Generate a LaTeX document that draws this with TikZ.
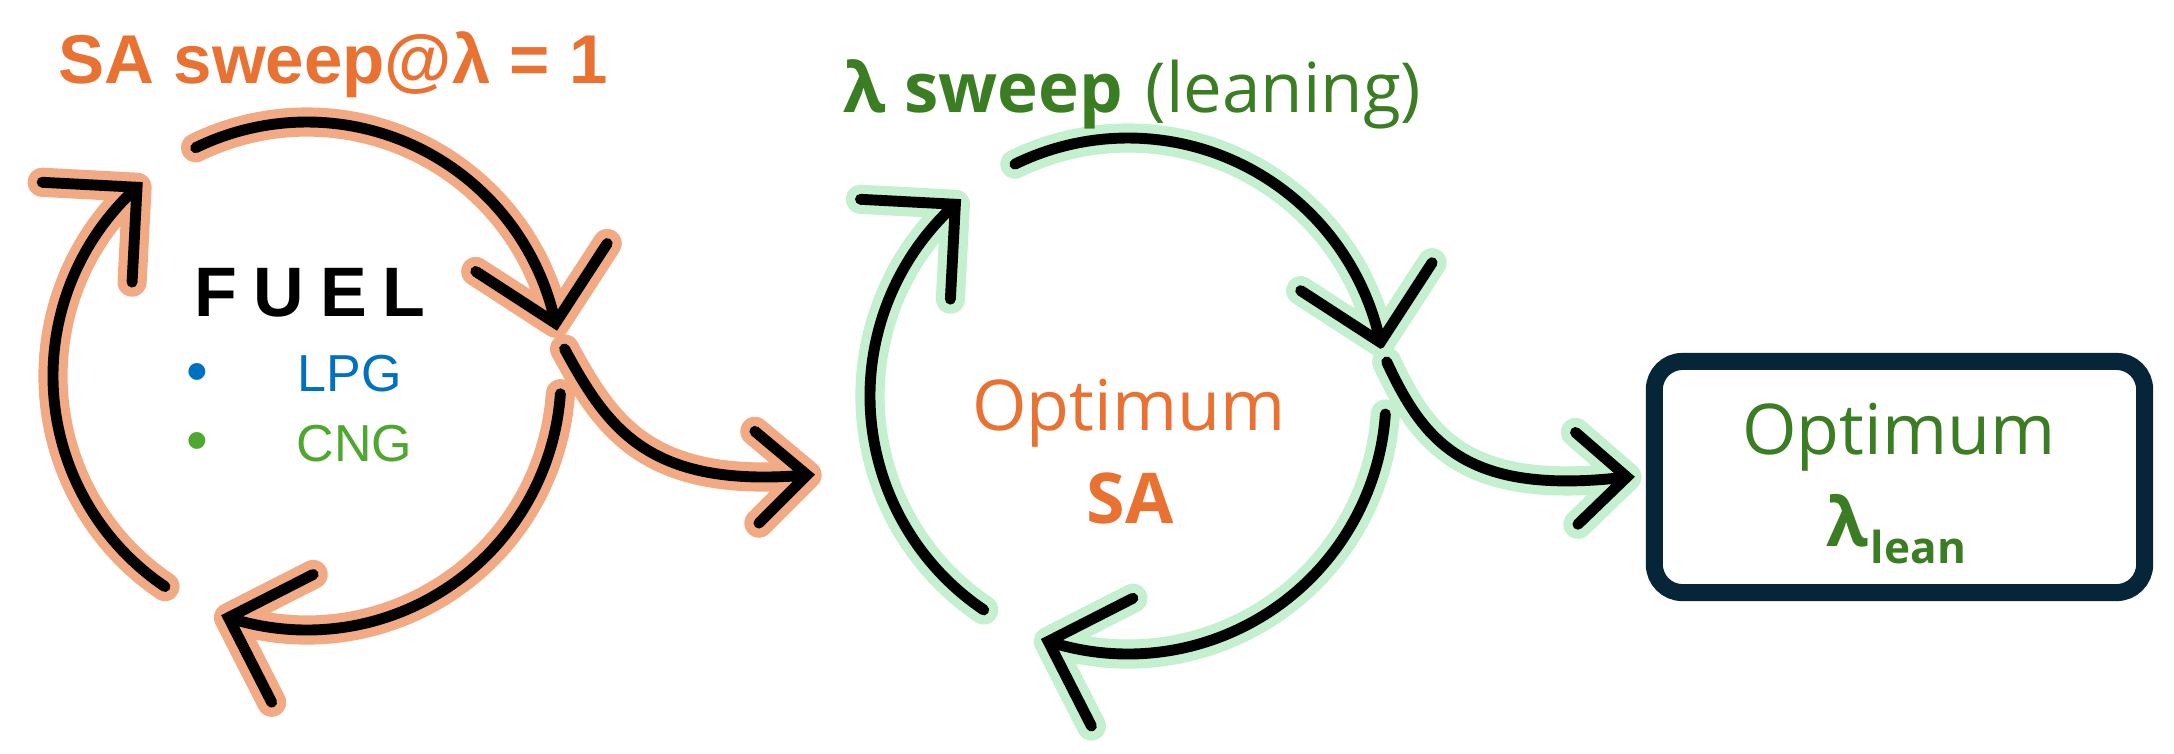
\documentclass[tikz,border=0pt]{standalone}
\usepackage{fontspec}
\setmainfont{Liberation Sans}
\newfontfamily\opensans{Open Sans}
\usetikzlibrary{calc}
\definecolor{orangeT}{HTML}{E97132}
\definecolor{orangeG}{HTML}{F2AA84}
\definecolor{greenT}{HTML}{3B7D23}
\definecolor{greenG}{HTML}{C4F0CF}
\definecolor{blueT}{HTML}{0070C0}
\definecolor{greenL}{HTML}{4EA72E}
\definecolor{navy}{HTML}{072538}
\newcommand\glowpath[2]{% #1 glow colour, #2 path
  \draw[glowpart=#1] #2;
  \draw[blackpart] #2;
}
\newcommand\cycarc[5]{% #1 centre, #2 radius, #3 start angle, #4 end angle, #5 glow colour
  \glowpath{#5}{($(#1)+(#3:#2)$) arc[start angle=#3, end angle=#4, radius=#2]
    ($(#1)+(#4:#2)+({#4+45}:95)$) -- ($(#1)+(#4:#2)$) -- ++({#4+135}:95)}
}
\begin{document}
\begin{tikzpicture}[x=0.01cm,y=0.01cm,
  glowpart/.style={draw=#1, line width=8.3pt, line cap=round, line join=round},
  blackpart/.style={draw=black, line width=3.1pt, line cap=round, line join=miter},
  txt/.style={inner sep=0pt, anchor=base},
]
\fill[white] (0,0) rectangle (2174,-753);
\useasboundingbox (0,0) rectangle (2174,-753);

% centres of the two cycles
\coordinate (L) at (307,-376);
\coordinate (M) at (1128,-396);

% left cycle (SA sweep)
\cycarc{L}{254}{116}{12}{orangeG}
\cycarc{L}{254}{-4}{-108}{orangeG}
\cycarc{L}{254}{236}{132}{orangeG}

% middle cycle (lambda sweep)
\cycarc{M}{258}{116}{12}{greenG}
\cycarc{M}{258}{-4}{-108}{greenG}
\cycarc{M}{258}{236}{132}{greenG}

% result box
\node[draw=navy, line width=4.85pt, rounded corners=0.28cm, minimum width=4.90cm,
  minimum height=2.31cm, inner sep=0pt] (box) at (1899.5,-477) {};

% connectors
\coordinate (c1s) at ($(L)+(6:259)$);
\coordinate (c1e) at (807,-475);
\glowpath{orangeG}{(c1s) .. controls ($(c1s)+(43,-79)$) and ($(c1e)+(-159,-14)$) .. (c1e)
  ($(c1e)+(140:68)$) -- (c1e) -- ++(225:68)}

\coordinate (c2s) at ($(M)+(7.5:261)$);
\coordinate (c2e) at ($(box.west)+(-19,0)$);
\glowpath{greenG}{(c2s) .. controls ($(c2s)+(38,-82)$) and ($(c2e)+(-159,-19)$) .. (c2e)
  ($(c2e)+(139:68)$) -- (c2e) -- ++(224:68)}

% texts
\node[txt, anchor=base west, text=orangeT, font=\bfseries\fontsize{0.69cm}{0.8cm}\selectfont]
  (title1) at (58,-83) {SA sweep@λ = 1};
\node[txt, anchor=base west, text=greenT, font=\opensans\fontsize{0.69cm}{0.8cm}\selectfont]
  (title2) at (843,-112) {{\bfseries λ sweep}\hspace{0.05cm} (leaning)};

\node[txt, anchor=base west, font=\bfseries\fontsize{0.70cm}{0.8cm}\selectfont]
  (fuel) at (194,-316) {F\kern0.16cm U\kern0.16cm E\kern0.16cm L};
\node[txt, text=blueT, font=\fontsize{0.62cm}{0.7cm}\selectfont] (b1) at (197,-392) {•};
\node[txt, anchor=base west, text=blueT, font=\fontsize{0.52cm}{0.6cm}\selectfont]
  (lpg) at (297,-391) {LPG};
\node[txt, text=greenL, font=\fontsize{0.62cm}{0.7cm}\selectfont] (b2) at (197,-461) {•};
\node[txt, anchor=base west, text=greenL, font=\fontsize{0.52cm}{0.6cm}\selectfont]
  (cng) at (296,-461) {CNG};

\node[txt, text=orangeT, font=\opensans\fontsize{0.70cm}{0.8cm}\selectfont]
  (opt1) at (1129,-430) {Optimum};
\node[txt, text=orangeT, font=\opensans\bfseries\fontsize{0.70cm}{0.8cm}\selectfont]
  (sa) at (1130,-523) {SA};

\node[txt, text=greenT, font=\opensans\fontsize{0.70cm}{0.8cm}\selectfont]
  (opt2) at (1899,-454) {Optimum};
\node[txt, anchor=base west, text=greenT, font=\opensans\bfseries\fontsize{0.68cm}{0.8cm}\selectfont]
  (lam) at (1826,-546) {λ};
\node[txt, anchor=base west, text=greenT, font=\opensans\bfseries\fontsize{0.44cm}{0.5cm}\selectfont]
  (lean) at ($(lam.base east)+(1,-17)$) {lean};
\end{tikzpicture}
\end{document}
